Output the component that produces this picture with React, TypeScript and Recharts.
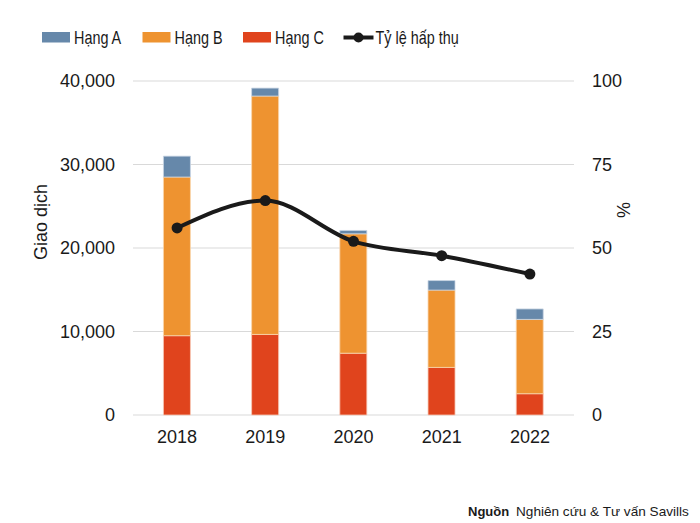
import React from "react";
import { ComposedChart, Bar, Line, XAxis, YAxis, CartesianGrid } from "recharts";

// values
const years = ["2018", "2019", "2020", "2021", "2022"];
const hangA = [2500, 950, 400, 1140, 1250];
const hangB = [19000, 28550, 14300, 9260, 8900];
const hangC = [9500, 9650, 7400, 5700, 2550];
const tyLe = [56, 64.2, 52, 47.7, 42.2];

const leftTicks = [0, 10000, 20000, 30000, 40000];
const rightTicks = [0, 25, 50, 75, 100];

const COLOR_A = "#6688AA";
const COLOR_B = "#EE9330";
const COLOR_C = "#E0441D";
const COLOR_LINE = "#1a1a1a";

const legendItems = [
    { name: "Hạng A", color: COLOR_A, type: "rect" },
    { name: "Hạng B", color: COLOR_B, type: "rect" },
    { name: "Hạng C", color: COLOR_C, type: "rect" },
    { name: "Tỷ lệ hấp thụ", color: COLOR_LINE, type: "line" },
];

const data = years.map((y, i) => ({
    year: y,
    a: hangA[i],
    b: hangB[i],
    c: hangC[i],
    rate: tyLe[i],
}));

const FONT = "'Liberation Sans', Arial, sans-serif";

const fmt = (v: number) => v.toLocaleString("en-US");

export default function App() {
    return (
        <div style={{ position: "absolute", left: 0, top: 0, width: 700, height: 523, background: "#fff", fontFamily: FONT }}>
            <ComposedChart
                width={700}
                height={523}
                data={data}
                margin={{ top: 81, right: 0, bottom: 0, left: 0 }}
                barCategoryGap="34.5%"
            >
                <CartesianGrid yAxisId="left" vertical={false} stroke="#d9d9d9" strokeWidth={1.2} />
                <XAxis
                    dataKey="year"
                    height={108}
                    axisLine={false}
                    tickLine={false}
                    tickSize={0}
                    tickMargin={15}
                    tick={{ fill: "#1a1a1a", fontSize: 18, fontFamily: FONT }}
                />
                <YAxis
                    yAxisId="left"
                    orientation="left"
                    width={133}
                    domain={[0, 40000]}
                    ticks={leftTicks}
                    tickFormatter={fmt}
                    axisLine={false}
                    tickLine={false}
                    tickSize={0}
                    tickMargin={18}
                    tick={{ fill: "#1a1a1a", fontSize: 18, fontFamily: FONT }}
                />
                <YAxis
                    yAxisId="right"
                    orientation="right"
                    width={126}
                    domain={[0, 100]}
                    ticks={rightTicks}
                    axisLine={false}
                    tickLine={false}
                    tickSize={0}
                    tickMargin={18}
                    tick={{ fill: "#1a1a1a", fontSize: 18, fontFamily: FONT, textAnchor: "start" }}
                />
                <Bar yAxisId="left" dataKey="c" stackId="s" fill={COLOR_C} stroke="#f6c9b8" strokeWidth={0.8} isAnimationActive={false} />
                <Bar yAxisId="left" dataKey="b" stackId="s" fill={COLOR_B} stroke="#f9d7b0" strokeWidth={0.8} isAnimationActive={false} />
                <Bar yAxisId="left" dataKey="a" stackId="s" fill={COLOR_A} stroke="#c9d6e3" strokeWidth={0.8} isAnimationActive={false} />
                <Line
                    yAxisId="right"
                    dataKey="rate"
                    type="monotone"
                    stroke={COLOR_LINE}
                    strokeWidth={4}
                    dot={{ r: 5.5, fill: COLOR_LINE, stroke: COLOR_LINE, strokeWidth: 0 }}
                    activeDot={false}
                    isAnimationActive={false}
                />
            </ComposedChart>

            {/* overlay: axis titles, legend, source */}
            <svg width={700} height={523} style={{ position: "absolute", left: 0, top: 0, pointerEvents: "none" }}>
                <text x={47} y={222} transform="rotate(-90, 47, 222)" textAnchor="middle" fontSize={18} fill="#1a1a1a" fontFamily={FONT}>
                    Giao dịch
                </text>
                <text x={630} y={210} transform="rotate(-90, 630, 210)" textAnchor="middle" fontSize={18} fill="#1a1a1a" fontFamily={FONT}>
                    %
                </text>

                {legendItems.map((it, i) => {
                    const x = 42 + i * 100.5;
                    return (
                        <g key={it.name}>
                            {it.type === "rect" ? (
                                <rect x={x} y={32} width={28} height={10.5} fill={it.color} />
                            ) : (
                                <g>
                                    <line x1={x} y1={37.5} x2={x + 30} y2={37.5} stroke={it.color} strokeWidth={4} />
                                    <circle cx={x + 15} cy={37.5} r={5} fill={it.color} />
                                </g>
                            )}
                            {/* legend font in the original is condensed */}
                            <text
                                x={0}
                                y={0}
                                transform={`translate(${x + 32}, 44) scale(0.8, 1)`}
                                fontSize={18}
                                fill="#1a1a1a"
                                fontFamily={FONT}
                            >
                                {it.name}
                            </text>
                        </g>
                    );
                })}

                <text x={468} y={516} fontSize={13} fill="#1a1a1a" fontFamily={FONT}>
                    <tspan fontWeight="bold">Nguồn</tspan>
                    <tspan x={516} fontSize={13.6}>Nghiên cứu &amp; Tư vấn Savills</tspan>
                </text>
            </svg>
        </div>
    );
}
